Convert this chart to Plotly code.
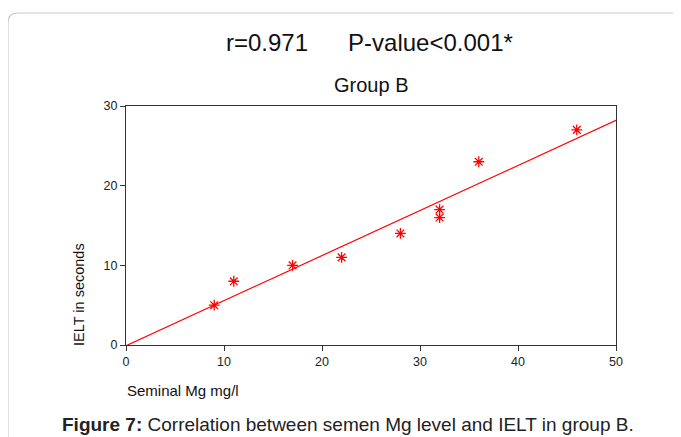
import numpy as np
import plotly.graph_objects as go

# Seminal Mg (mg/l) vs IELT (seconds), group B
mg = [9, 11, 17, 22, 28, 32, 32, 36, 46]
ielt = [5, 8, 10, 11, 14, 17, 16, 23, 27]
x_ticks = [0, 10, 20, 30, 40, 50]
y_ticks = [0, 10, 20, 30]

OFF = 8  # page body margin
W, H = 681 - OFF, 437 - OFF
L, R, T, B = 126 - OFF, 616 - OFF, 106 - OFF, 345 - OFF  # plot area


def px(x):
    return (x - OFF - L) / (R - L)


def py(y):
    return (B - (y - OFF)) / (B - T)


# least squares fit line
slope, icpt = np.polyfit(mg, ielt, 1)
fx = np.array([0, 50])
fy = slope * fx + icpt

fig = go.Figure()
fig.add_trace(go.Scatter(x=fx, y=fy, mode='lines',
                         line=dict(color='#ff0000', width=1.2),
                         hoverinfo='skip'))
fig.add_trace(go.Scatter(x=mg, y=ielt, mode='markers',
                         marker=dict(symbol='asterisk-open', size=9,
                                     color='#ff0000',
                                     line=dict(color='#ff0000', width=1.3))))

font = 'Arial, Liberation Sans'
axis_common = dict(showgrid=False, zeroline=False, showline=True,
                   linecolor='#333333', linewidth=1.3, mirror=True,
                   ticks='outside', ticklen=5, tickcolor='#333333',
                   tickfont=dict(family=font, size=12.5, color='#222222'))

fig.update_xaxes(range=[0, 50], tickvals=x_ticks, **axis_common)
fig.update_yaxes(range=[0, 30], tickvals=y_ticks, **axis_common)

# rounded frame around figure
x0, x1 = px(8), px(700)
y0, y1 = py(460), py(13)
rx, ry = 10 / (R - L), 10 / (B - T)
path = (f"M {x0},{y0} L {x0},{y1 - ry} Q {x0},{y1} {x0 + rx},{y1} "
        f"L {x1},{y1}")
fig.add_shape(type='path', path=path, xref='paper', yref='paper',
              line=dict(color='#c8c8c8', width=1.2), layer='below')


def note(x, y, text, size, **kw):
    kw.setdefault('xanchor', 'center')
    fig.add_annotation(x=px(x), y=py(y), xref='paper', yref='paper',
                       text=text, showarrow=False, yanchor='middle',
                       font=dict(family=kw.pop('family', font), size=size,
                                 color=kw.pop('color', '#111111')), **kw)


note(369, 43, 'r=0.971' + '&nbsp;' * 6 + 'P-value<0.001*', 24)
note(371, 85, 'Group B', 20)
note(79, 295, 'IELT in seconds', 14.5, textangle=-90)
note(125, 390, 'Seminal Mg mg/l', 15, xanchor='left')
note(348, 424, '<b>Figure 7:</b> Correlation between semen Mg level and IELT in group B.',
     19, family='Liberation Sans Narrow, Arial Narrow, Arial', color='#222222')

fig.update_layout(width=W, height=H, showlegend=False,
                  margin=dict(l=L, r=W - R, t=T, b=H - B),
                  paper_bgcolor='white', plot_bgcolor='white')

fig.write_html("out.html")
